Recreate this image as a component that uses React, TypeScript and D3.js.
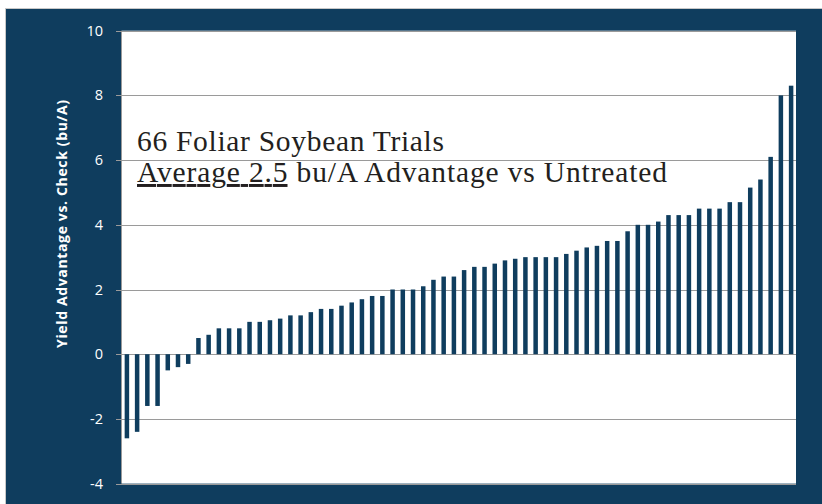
import React, { useEffect, useRef } from "react";
import * as d3 from "d3";

// yield advantage per trial (bu/A), sorted as in the chart
const trialValues = [
  -2.6, -2.4, -1.6, -1.6, -0.5, -0.4, -0.3, 0.5, 0.6, 0.8, 0.8, 0.8, 1.0, 1.0,
  1.05, 1.1, 1.2, 1.2, 1.3, 1.4, 1.4, 1.5, 1.6, 1.7, 1.8, 1.8, 2.0, 2.0, 2.0,
  2.1, 2.3, 2.4, 2.4, 2.6, 2.7, 2.7, 2.8, 2.9, 2.95, 3.0, 3.0, 3.0, 3.0, 3.1,
  3.2, 3.3, 3.35, 3.5, 3.5, 3.8, 4.0, 4.0, 4.1, 4.3, 4.3, 4.3, 4.5, 4.5, 4.5,
  4.7, 4.7, 5.15, 5.4, 6.1, 8.0, 8.3,
];
const trialIds = trialValues.map((_, i) => i + 1);
const yTicks = [-4, -2, 0, 2, 4, 6, 8, 10];
const yLabel = "Yield Advantage vs. Check (bu/A)";
const titleLine1 = "66 Foliar Soybean Trials";
const titleUnderlined = "Average 2.5";
const titleRest = " bu/A Advantage vs Untreated";

const navy = "#0f3d5e";

export default function App() {
  const svgRef = useRef<SVGSVGElement>(null);

  useEffect(() => {
    const svg = d3.select(svgRef.current);
    svg.selectAll("*").remove();

    const left = 122, right = 796, top = 30.7, bottom = 483.6;

    const x = d3
      .scaleBand<number>()
      .domain(trialIds)
      .range([left, right])
      .paddingInner(0.56)
      .paddingOuter(0.26);
    const y = d3.scaleLinear().domain([-4, 10]).range([bottom, top]);

    svg.append("rect")
      .attr("x", 5.5).attr("y", 8.5).attr("width", 830).attr("height", 510)
      .attr("fill", navy).attr("stroke", "#c8c8c8");

    svg.append("rect")
      .attr("x", left).attr("y", top)
      .attr("width", right - left).attr("height", bottom - top)
      .attr("fill", "#ffffff");

    // grid
    svg.append("g")
      .selectAll("line")
      .data(yTicks)
      .join("line")
      .attr("x1", left - 6).attr("x2", right)
      .attr("y1", (d) => Math.round(y(d)) + 0.5)
      .attr("y2", (d) => Math.round(y(d)) + 0.5)
      .attr("stroke", "#9a9a9a").attr("stroke-width", 1.2);

    svg.append("line")
      .attr("x1", left - 0.5).attr("x2", left - 0.5)
      .attr("y1", top).attr("y2", bottom)
      .attr("stroke", "#9a9a9a");

    svg.append("g")
      .selectAll("text")
      .data(yTicks)
      .join("text")
      .attr("x", 103)
      .attr("y", (d) => y(d))
      .attr("dy", "0.35em")
      .attr("text-anchor", "end")
      .attr("fill", "#ffffff")
      .style("font", "14.5px 'Open Sans'")
      .text((d) => d);

    svg.append("text")
      .attr("transform", "translate(67,224) rotate(-90)")
      .attr("text-anchor", "middle")
      .attr("fill", "#ffffff")
      .attr("textLength", 248)
      .attr("lengthAdjust", "spacing")
      .style("font", "bold 14px 'Open Sans'")
      .text(yLabel);

    // bars
    svg.append("g")
      .attr("fill", navy)
      .selectAll("rect")
      .data(trialValues)
      .join("rect")
      .attr("x", (_, i) => x(trialIds[i])!)
      .attr("width", x.bandwidth())
      .attr("y", (d) => y(Math.max(0, d)))
      .attr("height", (d) => Math.abs(y(d) - y(0)));

    const title = svg.append("g")
      .attr("fill", "#231f20")
      .style("font", "29.5px 'Liberation Serif'");
    title.append("text")
      .attr("x", 137).attr("y", 151)
      .attr("textLength", 307).attr("lengthAdjust", "spacing")
      .text(titleLine1);
    const t2 = title.append("text")
      .attr("x", 137).attr("y", 182)
      .attr("textLength", 530).attr("lengthAdjust", "spacing");
    t2.append("tspan").style("text-decoration", "underline").text(titleUnderlined);
    t2.append("tspan").text(titleRest);
  }, []);

  return (
    <svg
      ref={svgRef}
      width={822}
      height={504}
      style={{ position: "absolute", left: 0, top: 0 }}
    />
  );
}
